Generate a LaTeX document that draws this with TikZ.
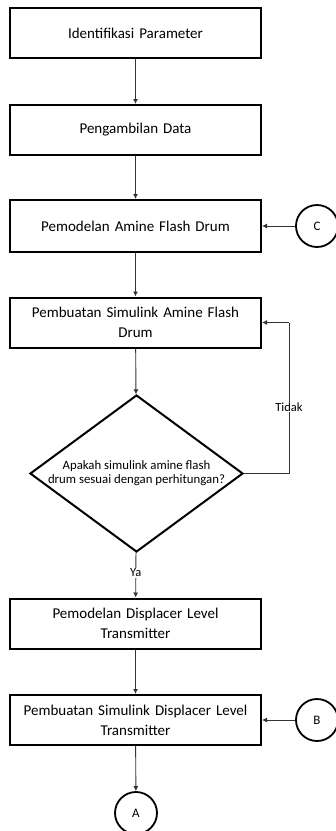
\documentclass[tikz,border=0pt]{standalone}
\usepackage{fontspec}
\setmainfont{Carlito}
\usetikzlibrary{shapes.geometric,arrows.meta}
\begin{document}
\begin{tikzpicture}[x=1pt,y=-1pt,
  procbox/.style={draw=black,line width=2pt,minimum width=251pt,minimum height=50pt,inner sep=2pt,align=center,text width=244pt,font=\fontsize{15}{20}\selectfont},
  decbox/.style={draw=black,line width=2pt,diamond,minimum width=213pt,minimum height=157pt,inner sep=0pt},
  dectext/.style={align=center,inner sep=0pt,font=\fontsize{12.8}{14}\selectfont},
  conn/.style={draw=black!80,line width=0.9pt},
  arr/.style={conn,-{Latex[length=5pt,width=5pt]}},
  circ/.style={draw=black,line width=1.8pt,circle,minimum size=42pt,inner sep=0pt,font=\fontsize{13}{15}\selectfont},
  lbl/.style={fill=white,inner sep=1pt,font=\fontsize{12.5}{14}\selectfont}]
\useasboundingbox (0,0) rectangle (336,831);
\node[procbox] (b1) at (135.5,33) {Identifikasi Parameter};
\node[procbox] (b2) at (135.5,130) {Pengambilan Data};
\node[procbox,minimum height=52pt] (b3) at (135.5,226) {Pemodelan Amine Flash Drum};
\node[procbox] (b4) at (135.5,322.5) {Pembuatan Simulink Amine Flash\\Drum};
\node[decbox] (d1) at (136.5,473.5) {};
\node[dectext] (d1t) at (d1.center) {Apakah simulink amine flash\\drum sesuai dengan perhitungan?};
\node[procbox] (b5) at (135.5,623.5) {Pemodelan Displacer Level\\Transmitter};
\node[procbox] (b6) at (135.5,720) {Pembuatan Simulink Displacer Level\\Transmitter};
\node[circ] (cA) at (136,813) {A};
\node[circ] (cC) at (317,226) {C};
\node[circ] (cB) at (317,720) {B};
\coordinate (fr) at (289,473.5);
\coordinate (fu) at (289,322.5);
\draw[arr] (b1) -- (b2);
\draw[arr] (b2) -- (b3);
\draw[arr] (b3) -- (b4);
\draw[arr] (b4) -- (d1);
\draw[arr] (d1) -- node[lbl,pos=0.45] {Ya} (b5);
\draw[arr] (b5) -- (b6);
\draw[arr] (b6) -- (cA);
\draw[arr] (cC) -- (b3);
\draw[arr] (cB) -- (b6);
\draw[conn] (d1.east) -- (fr) -- node[lbl,pos=0.44] {Tidak} (fu);
\draw[arr] (fu) -- (b4.east);
\end{tikzpicture}
\end{document}
